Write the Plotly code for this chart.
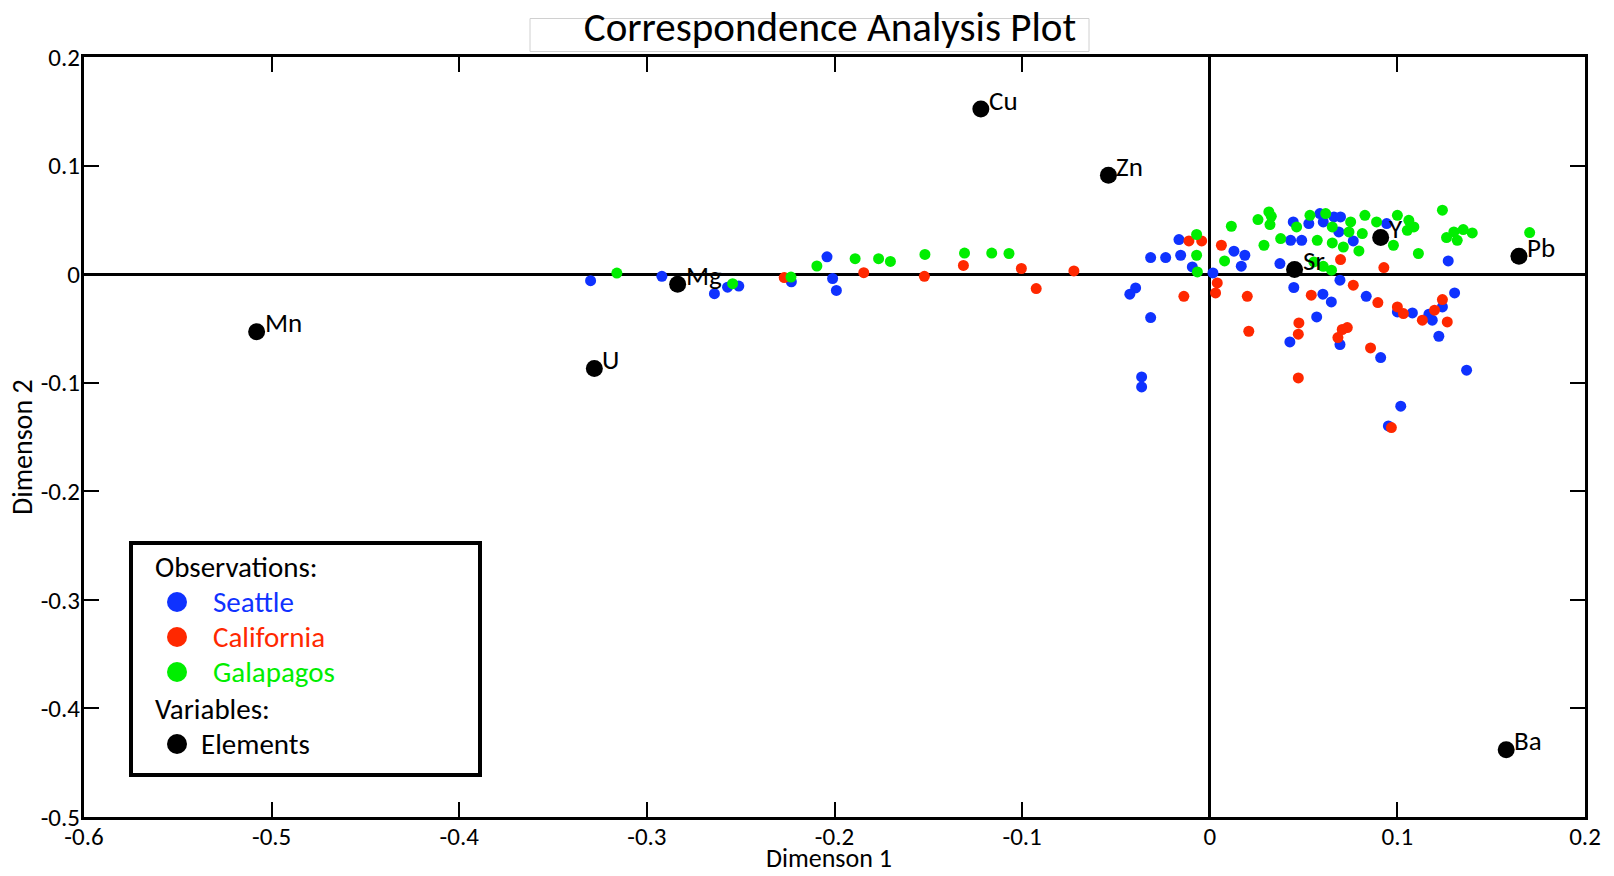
import plotly.graph_objects as go

# ---- Observations (row scores on dimensions 1 and 2) ----
seattle_x = [-0.330, -0.292, -0.264, -0.257, -0.251, -0.223, -0.204, -0.201, -0.199,
             -0.0315, -0.0235, -0.0155, -0.0164, -0.0093, 0.0017, -0.0395, -0.0426, -0.0315,
             -0.0363, -0.0363, 0.0129, 0.0187, 0.0168, 0.0431, 0.0490, 0.0445, 0.0528, 0.0587,
             0.0605, 0.0662, 0.0697, 0.0688, 0.0765, 0.0943, 0.0374, 0.1271, 0.0448, 0.0694,
             0.0603, 0.0648, 0.0834, 0.0570, 0.0427, 0.0694, 0.0911, 0.1000, 0.1018, 0.0952,
             0.1080, 0.1168, 0.1186, 0.1240, 0.1305, 0.1221, 0.1369]
seattle_y = [-0.006, -0.002, -0.018, -0.012, -0.011, -0.007, 0.016, -0.004, -0.015,
             0.0153, 0.0153, 0.0174, 0.0318, 0.0066, 0.0011, -0.0127, -0.0185, -0.0400,
             -0.0947, -0.1039, 0.0211, 0.0174, 0.0073, 0.0312, 0.0312, 0.0481, 0.0466, 0.0558,
             0.0481, 0.0527, 0.0527, 0.0389, 0.0306, 0.0466, 0.0097, 0.0122, -0.0123, -0.0056,
             -0.0185, -0.0256, -0.0204, -0.0394, -0.0624, -0.0648, -0.0768, -0.0348, -0.1216, -0.1398,
             -0.0357, -0.0369, -0.0424, -0.0302, -0.0173, -0.0572, -0.0885]

california_x = [-0.2268, -0.1844, -0.1521, -0.1313, -0.1004, -0.0925, -0.0724,
                -0.0138, -0.0111, -0.0043, 0.0040, 0.0031, 0.0062, 0.0200, 0.0208,
                0.0697, 0.0928, 0.0541, 0.0765, 0.0896, 0.1000, 0.0475, 0.0472, 0.0733,
                0.0706, 0.0683, 0.0857, 0.0472, 0.0968, 0.1032, 0.1133, 0.1198, 0.1240, 0.1266]
california_y = [-0.0032, 0.0013, -0.0020, 0.0080, 0.0052, -0.0133, 0.0030,
                -0.0204, 0.0306, 0.0306, -0.0081, -0.0173, 0.0266, -0.0204, -0.0526,
                0.0134, 0.0061, -0.0194, -0.0102, -0.0262, -0.0302, -0.0449, -0.0553, -0.0492,
                -0.0510, -0.0584, -0.0680, -0.0956, -0.1413, -0.0363, -0.0424, -0.0332, -0.0234, -0.0440]

galapagos_x = [-0.316, -0.2543, -0.2232, -0.2094, -0.189, -0.1765, -0.1702, -0.1518, -0.1307,
               -0.1162, -0.1070, -0.0070, -0.0070, -0.0066, 0.0115, 0.0079, 0.0257, 0.0289,
               0.0315, 0.0328, 0.0321, 0.0378, 0.0463, 0.0534, 0.0573, 0.0618, 0.0653, 0.0653,
               0.0712, 0.0751, 0.0742, 0.0795, 0.0827, 0.0813, 0.0889, 0.0979, 0.1000, 0.1061,
               0.1088, 0.1053, 0.1240, 0.1112, 0.1262, 0.1301, 0.1319, 0.1351, 0.1399, 0.1705,
               0.0555, 0.0605, 0.0649]
galapagos_y = [0.001, -0.0088, -0.0027, 0.0075, 0.0142, 0.0142, 0.0117, 0.0182, 0.0194,
               0.0194, 0.0190, 0.0365, 0.0174, 0.0020, 0.0441, 0.0122, 0.0503, 0.0266,
               0.0573, 0.0533, 0.0457, 0.0328, 0.0435, 0.0542, 0.0312, 0.0558, 0.0435, 0.0287,
               0.0250, 0.0481, 0.0389, 0.0214, 0.0542, 0.0374, 0.0481, 0.0266, 0.0542, 0.0496,
               0.0435, 0.0404, 0.0589, 0.0190, 0.0337, 0.0389, 0.0312, 0.0411, 0.0380, 0.0383,
               0.0112, 0.0072, 0.0036]

# ---- Variables (column scores) ----
element_names = ["Mn", "U", "Mg", "Cu", "Zn", "Sr", "Y", "Pb", "Ba"]
element_x = [-0.508, -0.328, -0.2836, -0.122, -0.054, 0.0452, 0.0911, 0.1648, 0.158]
element_y = [-0.053, -0.087, -0.0094, 0.152, 0.091, 0.0042, 0.0337, 0.0165, -0.438]

# ---- Axis ticks ----
x_ticks = [-0.6, -0.5, -0.4, -0.3, -0.2, -0.1, 0, 0.1, 0.2]
x_tick_labels = ["-0.6", "-0.5", "-0.4", "-0.3", "-0.2", "-0.1", "0", "0.1", "0.2"]
y_ticks = [0.2, 0.1, 0, -0.1, -0.2, -0.3, -0.4, -0.5]
y_tick_labels = ["0.2", "0.1", "0", "-0.1", "-0.2", "-0.3", "-0.4", "-0.5"]

BLUE = "#0f32ff"
RED = "#ff2800"
GREEN = "#00ee00"
FONT = "Carlito, Lato, sans-serif"

W, H = 1614, 876
M_L, M_R, M_T, M_B = 84, 29, 57, 59
PLOT_W = W - M_L - M_R
PLOT_H = H - M_T - M_B


def px_x(px):
    """Horizontal page pixel -> paper fraction."""
    return (px - M_L) / PLOT_W


def px_y(py):
    """Vertical page pixel (from top) -> paper fraction."""
    return (H - M_B - py) / PLOT_H


fig = go.Figure()

obs_series = [
    ("Seattle", seattle_x, seattle_y, BLUE),
    ("California", california_x, california_y, RED),
    ("Galapagos", galapagos_x, galapagos_y, GREEN),
]
for name, xs, ys, col in obs_series:
    fig.add_trace(go.Scatter(
        x=xs, y=ys, mode="markers", name=name,
        marker=dict(color=col, size=11, line=dict(width=0)),
        showlegend=False,
    ))

fig.add_trace(go.Scatter(
    x=element_x, y=element_y, mode="markers", name="Elements",
    marker=dict(color="black", size=17, line=dict(width=0)),
    showlegend=False,
))

annotations = []
# element labels, placed just up-right of each variable point
for nm, ex, ey in zip(element_names, element_x, element_y):
    annotations.append(dict(
        x=ex, y=ey, xref="x", yref="y", text=nm, showarrow=False,
        xanchor="left", yanchor="middle", xshift=6, yshift=9,
        font=dict(family=FONT, size=27, color="black"),
    ))

# axis titles
annotations.append(dict(
    x=px_x(829), y=px_y(875.5), xref="paper", yref="paper", text="Dimenson 1",
    showarrow=False, xanchor="center", yanchor="bottom",
    font=dict(family=FONT, size=26, color="black"),
))
annotations.append(dict(
    x=px_x(23), y=px_y(447), xref="paper", yref="paper", text="Dimenson 2",
    showarrow=False, xanchor="center", yanchor="middle", textangle=-90,
    font=dict(family=FONT, size=28, color="black"),
))

# ---- boxed key in the lower-left corner ----
LEG_FONT = 29
key_rows = [
    ("Observations:", None, 567, 153),
    ("Seattle", BLUE, 602, 211),
    ("California", RED, 637, 211),
    ("Galapagos", GREEN, 672, 211),
    ("Variables:", None, 709, 153),
    ("Elements", "black", 744, 199),
]
shapes = [
    # thin frame around the title
    dict(type="rect", xref="paper", yref="paper",
         x0=px_x(530), x1=px_x(1089), y0=px_y(51.5), y1=px_y(18.5),
         line=dict(color="#d0d0d0", width=1), fillcolor="rgba(0,0,0,0)", layer="below"),
    # key frame
    dict(type="rect", xref="paper", yref="paper",
         x0=px_x(131), x1=px_x(480), y0=px_y(775), y1=px_y(543),
         line=dict(color="black", width=4), fillcolor="white", layer="above"),
]
for label, col, yc, xt in key_rows:
    txt_col = "black" if col in (None, "black") else col
    annotations.append(dict(
        x=px_x(xt), y=px_y(yc), xref="paper", yref="paper", text=label, showarrow=False,
        xanchor="left", yanchor="middle",
        font=dict(family=FONT, size=LEG_FONT, color=txt_col),
    ))
    if col is not None:
        shapes.append(dict(
            type="circle", xref="paper", yref="paper",
            xsizemode="pixel", ysizemode="pixel",
            xanchor=px_x(177), yanchor=px_y(yc),
            x0=-10, x1=10, y0=-10, y1=10,
            fillcolor=col, line=dict(width=0), layer="above",
        ))

axis_common = dict(
    showgrid=False, automargin=False,
    showline=True, linewidth=3, linecolor="black", mirror="allticks",
    ticks="inside", ticklen=15, tickwidth=1.5, tickcolor="black",
    zeroline=True, zerolinecolor="black", zerolinewidth=2.5,
    tickfont=dict(family=FONT, size=25, color="black"),
)

fig.update_layout(
    width=W, height=H,
    margin=dict(l=M_L, r=M_R, t=M_T, b=M_B),
    paper_bgcolor="white", plot_bgcolor="white",
    font=dict(family=FONT, color="black"),
    title=dict(text="Correspondence Analysis Plot", x=830 / W,
               xanchor="center", y=1 - 27 / H, yanchor="middle",
               font=dict(family=FONT, size=41, color="black")),
    xaxis=dict(range=[-0.6, 0.2], tickvals=x_ticks, ticktext=x_tick_labels,
               ticklabelstandoff=-5, **axis_common),
    yaxis=dict(range=[-0.5, 0.2], tickvals=y_ticks, ticktext=y_tick_labels,
               ticklabelstandoff=-4, **axis_common),
    showlegend=False,
    shapes=shapes,
    annotations=annotations,
)

fig.write_html("out.html")
